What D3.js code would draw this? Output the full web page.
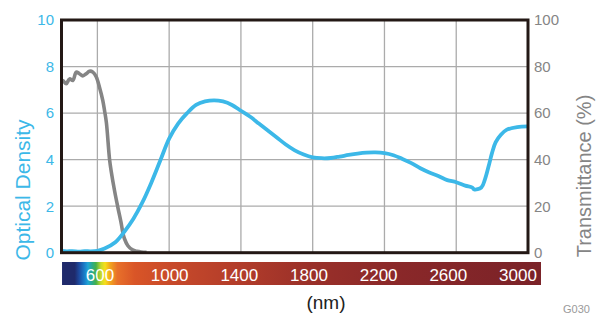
<!DOCTYPE html>
<html><head><meta charset="utf-8">
<script src="https://cdn.jsdelivr.net/npm/d3@7"></script>
<style>
html,body{margin:0;padding:0;background:#fff;}
svg{display:block;}
svg text{font-family:"Liberation Sans",Arial,sans-serif;}
</style></head>
<body>
<svg id="chart" width="597" height="315"></svg>
<script>
// Optical density curve (left axis)
const odWavelengths = [400,430,460,500,530,560,600,640,700,750,800,850,900,950,1000,1050,1100,1150,1200,1250,1300,1350,1400,1450,1500,1550,1600,1650,1700,1750,1800,1850,1900,1950,2000,2050,2100,2150,2200,2250,2300,2350,2400,2450,2500,2550,2600,2650,2690,2700,2740,2760,2780,2800,2820,2850,2880,2940,3000];
const odValues      = [0.08,0.06,0.07,0.05,0.07,0.06,0.08,0.18,0.45,0.9,1.45,2.15,3.0,3.95,4.9,5.55,6.0,6.35,6.5,6.55,6.5,6.35,6.1,5.85,5.55,5.25,4.95,4.65,4.4,4.22,4.1,4.06,4.07,4.13,4.2,4.26,4.3,4.31,4.28,4.19,4.03,3.85,3.63,3.45,3.3,3.12,3.03,2.88,2.8,2.72,2.8,3.15,3.7,4.3,4.75,5.08,5.28,5.4,5.43];
// Transmittance curve (right axis, %)
const tWavelengths = [400,407,426,445,463,482,500,519,538,556,575,594,612,630,640,650,668,677,696,714,733,742,751,770,796,820,845,874];
const tValues      = [73,74,72.6,74.7,74,77.6,76.9,76,76.9,78,77.6,75.5,71,65.5,61,56,40,35,26.5,19.5,12.5,8.5,6,3,1.2,0.6,0.3,0.2];
// Axis ticks
const xTicks = [600,1000,1400,1800,2200,2600,3000];
const odTicks = [0,2,4,6,8,10];
const tTicks = [0,20,40,60,80,100];
// Spectrum colour bar stops (nm, colour)
const spectrumNm     = [382,455,480,510,531,555,577,605,629,660,700,800,1000,1400,1800,2300,3132];
const spectrumColors = ["#1f2a6b","#1f2a6b","#1d4aa0","#1a7cc8","#20a4d6","#2bab8a","#45b04a","#c6d92c","#f6df1b","#f1a21e","#e8702a","#d95527","#c84a2a","#b23c2a","#9a3029","#8a2829","#7a2228"];

const svg = d3.select("#chart");
const BLUE = "#3cb8e8", GRAY = "#858585", DARK = "#231815";

const x = d3.scaleLinear().domain([400,3000]).range([61.5,528]);
const yOD = d3.scaleLinear().domain([0,10]).range([252.7,20]);
const yT = d3.scaleLinear().domain([0,100]).range([252.7,20]);
const xBar = d3.scaleLinear().domain([600,3000]).range([100,518]);

// grid
svg.append("g").selectAll("line").data(xTicks.slice(0,-1)).join("line")
  .attr("x1",d=>x(d)).attr("x2",d=>x(d)).attr("y1",yOD(0)).attr("y2",yOD(10))
  .attr("stroke","#ababab").attr("stroke-width",1.3);
svg.append("g").selectAll("line").data(odTicks.slice(1,-1)).join("line")
  .attr("x1",x(400)).attr("x2",x(3000)).attr("y1",d=>yOD(d)).attr("y2",d=>yOD(d))
  .attr("stroke","#ababab").attr("stroke-width",1.3);

// curves
const clipId="clip";
svg.append("clipPath").attr("id",clipId).append("rect")
  .attr("x",x(400)).attr("y",yOD(10)).attr("width",x(3000)-x(400)).attr("height",yOD(0)-yOD(10));
const lineOD = d3.line().x(d=>x(d[0])).y(d=>yOD(d[1])).curve(d3.curveCatmullRom.alpha(0.5));
const lineT = d3.line().x(d=>x(d[0])).y(d=>yT(d[1])).curve(d3.curveCatmullRom.alpha(0.5));
svg.append("path").datum(tWavelengths.map((w,i)=>[w,tValues[i]]))
  .attr("d",lineT).attr("fill","none").attr("stroke",GRAY).attr("stroke-width",3.6)
  .attr("stroke-linejoin","round").attr("clip-path",`url(#${clipId})`);
svg.append("path").datum(odWavelengths.map((w,i)=>[w,odValues[i]]))
  .attr("d",lineOD).attr("fill","none").attr("stroke",BLUE).attr("stroke-width",3.8)
  .attr("stroke-linejoin","round").attr("clip-path",`url(#${clipId})`);

// frame
svg.append("rect").attr("x",x(400)).attr("y",yOD(10))
  .attr("width",x(3000)-x(400)).attr("height",yOD(0)-yOD(10))
  .attr("fill","none").attr("stroke",DARK).attr("stroke-width",3);

// left axis labels
svg.append("g").selectAll("text").data(odTicks).join("text")
  .attr("x",54).attr("y",d=>yOD(d)).attr("dy","0.36em").attr("text-anchor","end")
  .attr("fill",BLUE).attr("font-size",15).text(d=>d);
// right axis labels
svg.append("g").selectAll("text").data(tTicks).join("text")
  .attr("x",534).attr("y",d=>yT(d)).attr("dy","0.36em").attr("text-anchor","start")
  .attr("fill",GRAY).attr("font-size",15).text(d=>d);

// axis titles
svg.append("text").attr("transform",`translate(30,190) rotate(-90)`)
  .attr("text-anchor","middle").attr("fill",BLUE).attr("font-size",21).text("Optical Density");
svg.append("text").attr("transform",`translate(591,176) rotate(-90)`)
  .attr("text-anchor","middle").attr("fill",GRAY).attr("font-size",20).text("Transmittance (%)");

// spectrum bar
const grad = svg.append("defs").append("linearGradient").attr("id","spec")
  .attr("x1","0%").attr("x2","100%").attr("y1","0%").attr("y2","0%");
const b0 = xBar(spectrumNm[0]), b1 = xBar(spectrumNm[spectrumNm.length-1]);
spectrumNm.forEach((w,i)=>{
  grad.append("stop").attr("offset",((xBar(w)-b0)/(b1-b0)*100)+"%").attr("stop-color",spectrumColors[i]);
});
svg.append("rect").attr("x",b0).attr("y",262).attr("width",b1-b0).attr("height",23).attr("fill","url(#spec)");
svg.append("g").selectAll("text").data(xTicks).join("text")
  .attr("x",d=>xBar(d)).attr("y",281).attr("text-anchor","middle")
  .attr("fill","#fff").attr("font-size",17).text(d=>d);

svg.append("text").attr("x",326).attr("y",309).attr("text-anchor","middle")
  .attr("fill","#222").attr("font-size",19).text("(nm)");
svg.append("text").attr("x",563).attr("y",313).attr("fill","#9a9a9a").attr("font-size",11).text("G030");
</script>
</body></html>
